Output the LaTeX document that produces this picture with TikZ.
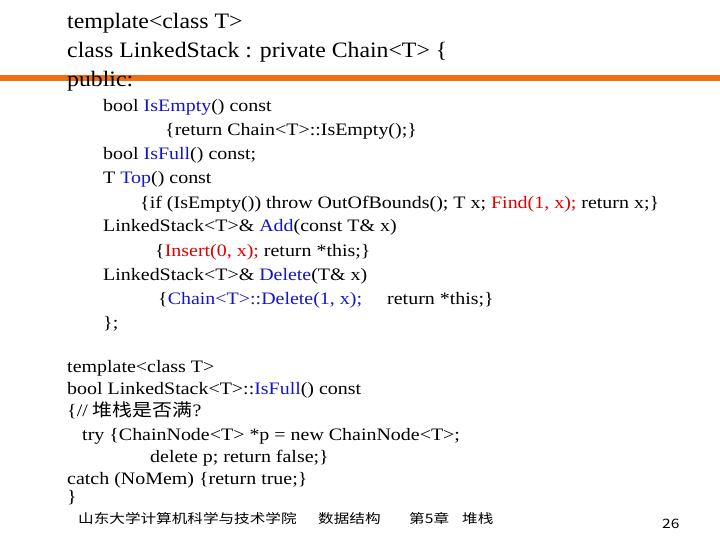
\documentclass[tikz,border=0pt]{standalone}
\usepackage{fontspec}
\setmainfont{Liberation Serif}
\newfontfamily\cjk{Noto Sans CJK SC}
\definecolor{fnblue}{RGB}{20,20,200}
\definecolor{fnred}{RGB}{220,0,0}
\definecolor{barorange}{RGB}{240,110,20}
\begin{document}
\begin{tikzpicture}[x=1pt,y=-1pt,
  big/.style={anchor=base west,inner sep=0pt,font=\fontsize{22}{24}\selectfont,xscale=1.08},
  sm/.style={anchor=base west,inner sep=0pt,font=\fontsize{17.5}{20}\selectfont,xscale=1.14},
  foot/.style={anchor=base west,inner sep=0pt,font=\cjk\fontsize{13}{14}\selectfont,xscale=1.2}]
\useasboundingbox (0,0) rectangle (720,540);
\fill[barorange] (0,75) rectangle (720,81);
\node[big] (l1) at (67,29) {template<class T>};
\node[big] (l2) at (67,58) {class LinkedStack : private Chain<T> \{};
\node[big] (l3) at (67,87) {public:};
\node[sm] (a1) at (103,112) {bool \textcolor{fnblue}{IsEmpty}() const};
\node[sm] (a2) at (165,136) {\{return Chain<T>::IsEmpty();\}};
\node[sm] (a3) at (103,160) {bool \textcolor{fnblue}{IsFull}() const;};
\node[sm] (a4) at (103,184) {T \textcolor{fnblue}{Top}() const};
\node[sm] (a5) at (140,208) {\{if (IsEmpty()) throw OutOfBounds(); T x; \textcolor{fnred}{Find(1, x);} return x;\}};
\node[sm] (a6) at (103,232) {LinkedStack<T>\& \textcolor{fnblue}{Add}(const T\& x)};
\node[sm] (a7) at (155,256) {\{\textcolor{fnred}{Insert(0, x);} return *this;\}};
\node[sm] (a8) at (103,280) {LinkedStack<T>\& \textcolor{fnblue}{Delete}(T\& x)};
\node[sm] (a9) at (158,304) {\{\textcolor{fnblue}{Chain<T>::Delete(1, x);}};
\node[sm] (a10) at (387,304) {return *this;\}};
\node[sm] (a11) at (103,328) {\};};
\node[sm] (b1) at (67,372) {template<class T>};
\node[sm] (b2) at (67,394) {bool LinkedStack<T>::\textcolor{fnblue}{IsFull}() const};
\node[sm] (b3) at (67,416) {\{// {\cjk 堆栈是否满}?};
\node[sm] (b4) at (82,440) {try \{ChainNode<T> *p = new ChainNode<T>;};
\node[sm] (b5) at (150,462) {delete p; return false;\}};
\node[sm] (b6) at (67,484) {catch (NoMem) \{return true;\}};
\node[sm] (b7) at (67,502) {\}};
\node[foot] (f1) at (78,523) {山东大学计算机科学与技术学院};
\node[foot] (f2) at (318,523) {数据结构};
\node[foot] (f3) at (409,523) {第5章};
\node[foot] (f4) at (462,523) {堆栈};
\node[foot] (f5) at (662,528) {26};
\end{tikzpicture}
\end{document}
